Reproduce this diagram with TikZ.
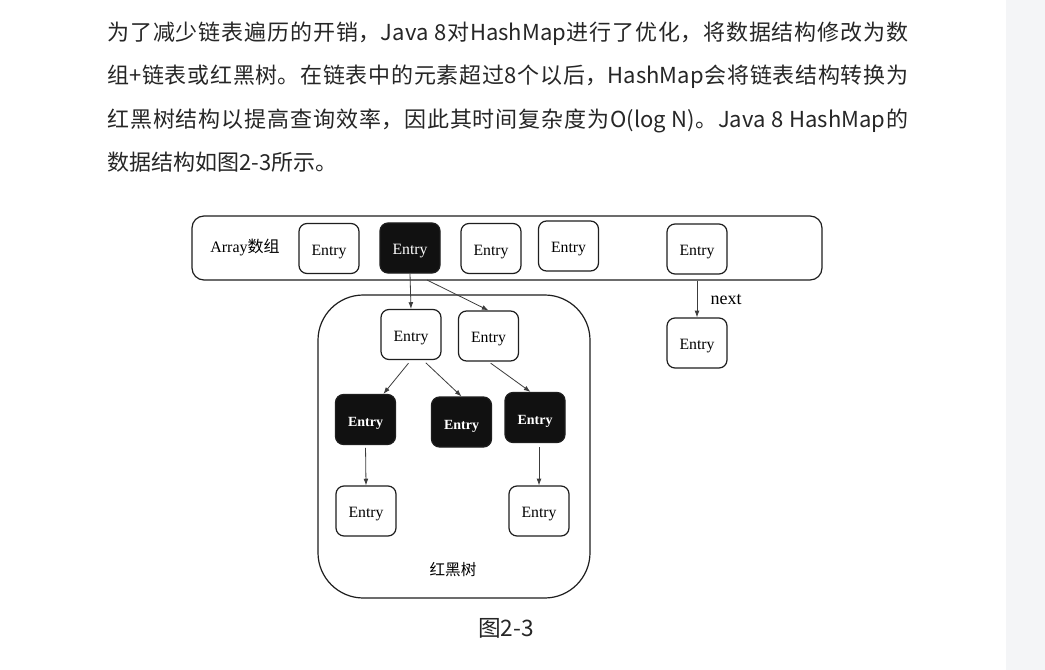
\documentclass[tikz,border=0pt]{standalone}
\usepackage{fontspec}
\setmainfont{Liberation Serif}
\newfontfamily\cjk{Noto Sans CJK SC}
\usepackage{tikz}
\usetikzlibrary{arrows.meta}
\XeTeXlinebreaklocale "zh"
\XeTeXlinebreakskip=0pt plus 2pt

\begin{document}
\begin{tikzpicture}[x=0.75pt,y=0.75pt,yscale=-1,xscale=1,
    entry/.style={draw={rgb, 255:red, 30; green, 30; blue, 30}, line width=0.9pt, rounded corners=6pt,
        minimum width=45pt, minimum height=37.5pt, inner sep=0pt, text height=9.8pt, text depth=0pt,
        font=\fontsize{11.8pt}{14pt}\selectfont},
    darkentry/.style={entry, fill={rgb, 255:red, 17; green, 17; blue, 17}, text=white, text height=10.5pt,
        font=\bfseries\fontsize{10.5pt}{12pt}\selectfont},
    arw/.style={draw={rgb, 255:red, 60; green, 60; blue, 60}, line width=0.6pt, -{Latex[length=5pt,width=3.6pt]}}]
        %set diagram left start at 0, and has height of 670
        \path [use as bounding box, fill=white] (0,0) rectangle (1045,670);
        %Shape: Rectangle [id:side]
        \fill [fill={rgb, 255:red, 244; green, 245; blue, 247}] (1006,0) rectangle (1045,670);

        % Text Node
        \node (para) [anchor=base west, inner sep=0pt, text width=600.75pt, align=justify,
            text={rgb, 255:red, 38; green, 38; blue, 38}, font=\cjk\fontsize{16.5pt}{32.6pt}\selectfont] at (107,40.5)
            {为了减少链表遍历的开销，Java 8对HashMap进行了优化，将数据结构修改为数\linebreak
             组+链表或红黑树。在链表中的元素超过8个以后，HashMap会将链表结构转换为\linebreak
             红黑树结构以提高查询效率，因此其时间复杂度为O(log N)。Java 8 HashMap的\linebreak
             数据结构如图2-3所示。};

        %Shape: Rounded Rect [id:arr]
        \node (arr) [draw={rgb, 255:red, 30; green, 30; blue, 30}, line width=0.9pt, rounded corners=9pt,
            minimum width=472.5pt, minimum height=48pt, inner sep=0pt] at (507,248) {};
        %Shape: Rounded Rect [id:rbt]
        \node (rbt) [draw={rgb, 255:red, 30; green, 30; blue, 30}, line width=0.9pt, rounded corners=34pt,
            minimum width=204pt, minimum height=227.25pt, inner sep=0pt] at (454,446.5) {};

        % Text Node
        \node (arrlbl) [font=\fontsize{12pt}{14pt}\selectfont] at (245,247) {Array{\cjk 数组}};
        %Array entries
        \node (a1) [entry] at (329,248.5) {Entry};
        \node (a2) [darkentry, text height=9.8pt, font=\fontsize{11.8pt}{14pt}\selectfont] at (410,248) {Entry};
        \node (a3) [entry] at (491,248.5) {Entry};
        \node (a4) [entry] at (568.5,246) {Entry};
        \node (a5) [entry] at (697,249) {Entry};
        \node (n1) [entry] at (697,343) {Entry};
        % Text Node
        \node (nextlbl) [font=\fontsize{13.5pt}{16pt}\selectfont] at (726,300) {next};

        %Tree entries
        \node (t1) [entry] at (411,334.5) {Entry};
        \node (t2) [entry] at (488.5,336) {Entry};
        \node (b1) [darkentry] at (365.5,419.5) {Entry};
        \node (b2) [darkentry] at (461.5,422) {Entry};
        \node (b3) [darkentry] at (535,417.5) {Entry};
        \node (w1) [entry] at (366,511) {Entry};
        \node (w2) [entry] at (539,511) {Entry};
        % Text Node
        \node (rbtlbl) [font=\cjk\fontsize{11.7pt}{14pt}\selectfont] at (453,570) {红黑树};

        %Straight Lines
        \coordinate (fork) at (427,280);
        \draw [arw] (a2.south) -- (t1.north);
        \draw [arw] (fork) -- (t2.north);
        \draw [arw] (arr.south -| a5.south) -- (n1.north);
        \draw [arw, shorten <=3pt] (t1.south) -- (b1.55);
        \draw [arw, shorten <=3pt] (t1.-65) -- (b2.north);
        \draw [arw, shorten <=2pt] (t2.south) -- (b3.100);
        \draw [arw, shorten <=2pt] (b1.south) -- (w1.north);
        \draw [arw, shorten <=3pt] (b3.south -| w2.north) -- (w2.north);

        % Text Node
        \node (cap) [text={rgb, 255:red, 38; green, 38; blue, 38}, font=\cjk\fontsize{17pt}{20pt}\selectfont] at (506,628) {图2-3};
\end{tikzpicture}
\end{document}
